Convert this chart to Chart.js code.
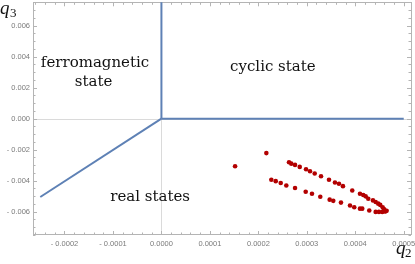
<!DOCTYPE html>
<html><head><meta charset="utf-8">
<script src="https://cdn.jsdelivr.net/npm/chart.js@4/dist/chart.umd.min.js"></script>
<style>html,body{margin:0;padding:0;background:#fff}</style>
</head><body>
<canvas id="c" width="415" height="264"></canvas>
<script>
// ---- data ----
const xTickValues = [-0.0002, -0.0001, 0, 0.0001, 0.0002, 0.0003, 0.0004, 0.0005];
const yTickValues = [-0.006, -0.004, -0.002, 0, 0.002, 0.004, 0.006];

const verticalBoundaryQ2 = [0, 0];
const verticalBoundaryQ3 = [0, 0.0076];
const horizontalBoundaryQ2 = [0, 0.0005];
const horizontalBoundaryQ3 = [0, 0];
const diagonalBoundaryQ2 = [-0.00025, 0];
const diagonalBoundaryQ3 = [-0.00505, 0];

const stateQ2 = [
  0.000152, 0.0002165,
  0.0002633, 0.000268, 0.0002757, 0.0002854, 0.0002984, 0.0003066, 0.0003163, 0.0003293,
  0.0003458, 0.0003581, 0.0003664, 0.0003746, 0.0003938, 0.0004097, 0.0004165, 0.0004214,
  0.0004268, 0.0004365, 0.0004421, 0.0004474, 0.0004515, 0.0004565, 0.0004598, 0.0004627,
  0.0002268, 0.0002359, 0.0002462, 0.0002577, 0.0002757, 0.0002977, 0.0003107, 0.0003278,
  0.0003472, 0.0003546, 0.0003705, 0.0003891, 0.0003979, 0.0004097, 0.0004144, 0.0004289,
  0.0004421, 0.0004489, 0.0004557, 0.0004612, 0.0004647
];
const stateQ3 = [
  -0.00307, -0.00222,
  -0.00281, -0.00290, -0.00298, -0.00311, -0.00326, -0.00339, -0.00354, -0.00371,
  -0.00394, -0.00412, -0.00420, -0.00435, -0.00463, -0.00484, -0.00492, -0.00501,
  -0.00516, -0.00527, -0.00537, -0.00548, -0.00556, -0.00571, -0.00584, -0.00597,
  -0.00394, -0.00403, -0.00415, -0.00431, -0.00447, -0.00471, -0.00484, -0.00503,
  -0.00522, -0.00530, -0.00541, -0.00560, -0.00571, -0.00580, -0.00580, -0.00592,
  -0.00601, -0.00601, -0.00601, -0.00599, -0.00594
];

const regionNames = ["ferromagnetic", "state", "cyclic state", "real states"];
const axisNames = ["q", "2", "3"];

// ---- helpers ----
const zip = (a, b) => a.map((v, i) => ({x: v, y: b[i]}));
const fmt = d => v => (Math.abs(v) < 1e-12 ? (0).toFixed(d) : (v < 0 ? '- ' : '') + Math.abs(v).toFixed(d));
const BLUE = '#5e81b5', RED = '#b30000';
const FRAME = '#b4b4b4', ZERO = '#dadada';

const lineDs = (xs, ys) => ({
  type: 'scatter', data: zip(xs, ys), showLine: true, borderColor: BLUE, borderWidth: 2,
  pointRadius: 0, pointHoverRadius: 0, fill: false, order: 2
});

const framePlugin = {
  id: 'frame',
  beforeDatasetsDraw(chart) {
    const {ctx, chartArea: a, scales: {x, y}} = chart;
    ctx.save();
    // zero axes
    ctx.strokeStyle = ZERO; ctx.lineWidth = 1;
    ctx.beginPath();
    const x0 = Math.round(x.getPixelForValue(0)) + 0.5;
    const y0 = Math.round(y.getPixelForValue(0)) + 0.5;
    ctx.moveTo(x0, a.top); ctx.lineTo(x0, a.bottom);
    ctx.moveTo(a.left, y0); ctx.lineTo(a.right, y0);
    ctx.stroke();
    // frame
    ctx.strokeStyle = FRAME;
    ctx.strokeRect(Math.round(a.left) + 0.5, Math.round(a.top) + 0.5, Math.round(a.right - a.left), Math.round(a.bottom - a.top) - 1);
    // ticks
    ctx.beginPath();
    const xStep = 0.00002, yStep = 0.0005;
    for (let i = Math.ceil(x.min / xStep); i * xStep <= x.max + 1e-12; i++) {
      const v = i * xStep;
      const major = Math.abs(i % 5) === 0;
      const len = major ? 4 : 2.5;
      const px = Math.round(x.getPixelForValue(v)) + 0.5;
      ctx.moveTo(px, a.bottom); ctx.lineTo(px, a.bottom - len);
      ctx.moveTo(px, a.top); ctx.lineTo(px, a.top + len);
    }
    for (let i = Math.ceil(y.min / yStep); i * yStep <= y.max + 1e-12; i++) {
      const v = i * yStep;
      const major = Math.abs(i % 4) === 0;
      const len = major ? 4 : 2.5;
      const py = Math.round(y.getPixelForValue(v)) + 0.5;
      ctx.moveTo(a.left, py); ctx.lineTo(a.left + len, py);
      ctx.moveTo(a.right, py); ctx.lineTo(a.right - len, py);
    }
    ctx.stroke();
    ctx.restore();
  },
  afterDatasetsDraw(chart) {
    const {ctx, scales: {x, y}} = chart;
    ctx.save();
    ctx.fillStyle = '#111';
    ctx.font = '15px "DejaVu Serif"';
    ctx.textAlign = 'center'; ctx.textBaseline = 'alphabetic';
    ctx.fillText(regionNames[0], x.getPixelForValue(-0.000137), y.getPixelForValue(0.00330));
    ctx.fillText(regionNames[1], x.getPixelForValue(-0.000140), y.getPixelForValue(0.00208));
    ctx.fillText(regionNames[2], x.getPixelForValue(0.00023), y.getPixelForValue(0.00308));
    ctx.fillText(regionNames[3], x.getPixelForValue(-0.0000233), y.getPixelForValue(-0.00528));
    // axis names
    ctx.textAlign = 'left';
    ctx.font = 'italic 19px "Liberation Serif"';
    ctx.fillText(axisNames[0], 0, 14);
    ctx.fillText(axisNames[0], 396, 254);
    ctx.font = '13px "Liberation Serif"';
    ctx.fillText(axisNames[2], 10, 17);
    ctx.fillText(axisNames[1], 405, 257);
    ctx.restore();
  }
};

const tickFont = {family: '"Liberation Sans"', size: 7.5};

new Chart(document.getElementById('c'), {
  type: 'scatter',
  data: {
    datasets: [
      {
        data: zip(stateQ2, stateQ3), backgroundColor: RED, borderColor: RED,
        pointRadius: 2.3, pointBorderWidth: 0, pointHoverRadius: 2.3, order: 1
      },
      lineDs(verticalBoundaryQ2, verticalBoundaryQ3),
      lineDs(horizontalBoundaryQ2, horizontalBoundaryQ3),
      lineDs(diagonalBoundaryQ2, diagonalBoundaryQ3)
    ]
  },
  options: {
    responsive: false, animation: false, devicePixelRatio: 1,
    layout: {padding: {left: 0, right: 4, top: 0, bottom: 0}},
    plugins: {legend: {display: false}, tooltip: {enabled: false}},
    scales: {
      x: {
        type: 'linear', min: -0.000265, max: 0.000515,
        afterBuildTicks: s => { s.ticks = xTickValues.map(v => ({value: v})); },
        afterFit: s => { s.height = 29; s.paddingLeft = 0; s.paddingRight = 0; },
        ticks: {callback: fmt(4), font: tickFont, color: '#7a7a7a', padding: 4, maxRotation: 0, autoSkip: false},
        grid: {display: false, drawTicks: false}, border: {display: false}
      },
      y: {
        type: 'linear', min: -0.0075, max: 0.0075,
        afterBuildTicks: s => { s.ticks = yTickValues.map(v => ({value: v})); },
        afterFit: s => { s.width = 33; s.paddingTop = 0; s.paddingBottom = 0; },
        ticks: {callback: fmt(3), font: tickFont, color: '#7a7a7a', padding: 3, autoSkip: false},
        grid: {display: false, drawTicks: false}, border: {display: false}
      }
    }
  },
  plugins: [framePlugin]
});
</script>
</body></html>
